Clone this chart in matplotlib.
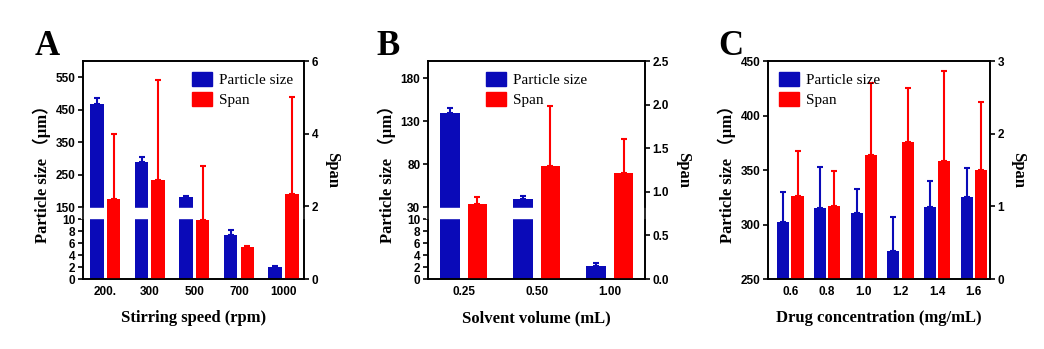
import numpy as np
import matplotlib
matplotlib.use('Agg')
import matplotlib.pyplot as plt
from matplotlib.patches import Rectangle, Patch

# panel A: stirring speed
a_labels = ['200.', '300', '500', '700', '1000']
a_size = [468, 289, 181, 7.4, 1.95]
a_size_err = [19, 15, 3, 0.7, 0.25]
a_span = [2.21, 2.73, 1.63, 0.88, 2.34]
a_span_err = [1.78, 2.75, 1.49, 0.03, 2.68]

# panel B: solvent volume
b_labels = ['0.25', '0.50', '1.00']
b_size = [140, 38.8, 2.2]
b_size_err = [5.8, 3.5, 0.5]
b_span = [0.86, 1.30, 1.21]
b_span_err = [0.08, 0.68, 0.39]

# panel C: drug concentration
c_labels = ['0.6', '0.8', '1.0', '1.2', '1.4', '1.6']
c_size = [302.5, 314.7, 310.8, 275.3, 316, 324.8]
c_size_err = [27.5, 38.3, 22.2, 31.5, 23.5, 26.6]
c_span = [1.14, 1.00, 1.71, 1.89, 1.63, 1.50]
c_span_err = [0.62, 0.48, 0.99, 0.74, 1.23, 0.94]

BLUE = '#0a0ab8'
RED = '#ff0000'
SERIF = ['Liberation Serif', 'Noto Sans CJK SC']
SANS = 'Liberation Sans'

W, H = 1044, 349
fig = plt.figure(figsize=(W / 100, H / 100), dpi=100)


def broken_scale(lo_top, hi_bot, hi_top, f_lo, f_gap):
    # piecewise linear: [0, lo_top] -> [0, f_lo], [hi_bot, hi_top] -> [f_lo+f_gap, 1]
    xs = [0, lo_top, hi_bot, hi_top]
    fs = [0, f_lo, f_lo + f_gap, 1.0]

    def fwd(y):
        y = np.asarray(y, dtype=float)
        out = np.interp(y, xs, fs)
        out = np.where(y < 0, y / lo_top * f_lo, out)
        out = np.where(y > hi_top, 1 + (y - hi_top) / (hi_top - hi_bot) * (1 - f_lo - f_gap), out)
        return out

    def inv(f):
        f = np.asarray(f, dtype=float)
        out = np.interp(f, fs, xs)
        out = np.where(f < 0, f / f_lo * lo_top, out)
        out = np.where(f > 1, hi_top + (f - 1) / (1 - f_lo - f_gap) * (hi_top - hi_bot), out)
        return out
    return fwd, inv


def style(ax):
    for s in ax.spines.values():
        s.set_linewidth(1.2)
    ax.tick_params(width=1.2, length=3.5, labelsize=8.5, pad=2)
    for t in ax.get_xticklabels() + ax.get_yticklabels():
        t.set_fontfamily(SANS)
        t.set_fontweight('bold')


def panel(rect, labels, size, size_err, span, span_err, width, off, xlim,
          ylim, yticks, y2lim, y2ticks, y2fmt, xlabel, letter, letter_xy,
          legend_loc, brk=None):
    ax = fig.add_axes(rect)
    x = np.arange(len(labels))
    if brk is not None:
        fwd, inv = broken_scale(*brk)
        ax.set_yscale('function', functions=(fwd, inv))
    ax.bar(x - off, size, width, color=BLUE, zorder=2)
    ax.errorbar(x - off, size, yerr=[np.zeros(len(size)), size_err], fmt='none',
                ecolor=BLUE, elinewidth=1.5, capsize=2.5, capthick=1.5, zorder=2)
    ax.set_xlim(*xlim)
    ax.set_ylim(*ylim)
    ax.set_yticks(yticks)
    ax.set_xticks(x)
    ax.set_xticklabels(labels)
    if brk is not None:
        # white band hiding the blue bars and left spine across the break
        f_lo, f_gap = brk[3], brk[4]
        ax.add_patch(Rectangle((-0.01, f_lo + 0.004), 1.01, f_gap - 0.008,
                               transform=ax.transAxes, color='white', zorder=3,
                               clip_on=False))
    ax.set_ylabel('Particle size （μm）', family=SERIF, fontweight='bold',
                  fontsize=12, labelpad=3)
    ax.set_xlabel(xlabel, family=SERIF, fontweight='bold', fontsize=12, labelpad=9)

    ax2 = ax.twinx()
    ax2.bar(x + off, span, width, color=RED, zorder=2)
    ax2.errorbar(x + off, span, yerr=[np.zeros(len(span)), span_err], fmt='none',
                 ecolor=RED, elinewidth=1.5, capsize=2.5, capthick=1.5, zorder=2)
    ax2.set_ylim(*y2lim)
    ax2.set_yticks(y2ticks)
    ax2.set_yticklabels([y2fmt.format(v) for v in y2ticks])
    ax2.set_ylabel('Span', family=SERIF, fontweight='bold', fontsize=12,
                   rotation=270, labelpad=16)
    style(ax)
    style(ax2)
    ax.tick_params(axis='x', length=0, pad=5)
    handles = [Patch(color=BLUE, label='Particle size'), Patch(color=RED, label='Span')]
    ax2.legend(handles=handles, loc=legend_loc, frameon=False,
               prop={'family': 'Liberation Serif', 'size': 11},
               handlelength=1.3, handleheight=1.1, handletextpad=0.5,
               labelspacing=0.3, borderaxespad=0.3)
    fig.text(letter_xy[0], letter_xy[1], letter, family='Liberation Serif',
             fontweight='bold', fontsize=25, ha='left', va='baseline')
    return ax, ax2


axh = 218 / H
axb = (H - 279) / H

panel([83 / W, axb, 221 / W, axh], a_labels, a_size, a_size_err, a_span, a_span_err,
      0.3, 0.187, (-0.5, 4.46), (0, 600), [0, 2, 4, 6, 8, 10, 150, 250, 350, 450, 550],
      (0, 6), [0, 2, 4, 6], '{:.0f}', 'Stirring speed (rpm)', 'A', (35 / W, 1 - 55 / H),
      'upper right', brk=(10, 150, 600, 0.275, 0.055))

panel([428 / W, axb, 217 / W, axh], b_labels, b_size, b_size_err, b_span, b_span_err,
      0.27, 0.186, (-0.49, 2.48), (0, 200), [0, 2, 4, 6, 8, 10, 30, 80, 130, 180],
      (0, 2.5), [0, 0.5, 1.0, 1.5, 2.0, 2.5], '{:.1f}', 'Solvent volume (mL)', 'B',
      (376 / W, 1 - 55 / H), 'upper center', brk=(10, 30, 200, 0.275, 0.055))

panel([768 / W, axb, 222 / W, axh], c_labels, c_size, c_size_err, c_span, c_span_err,
      0.33, 0.195, (-0.61, 5.44), (250, 450), [250, 300, 350, 400, 450],
      (0, 3), [0, 1, 2, 3], '{:.0f}', 'Drug concentration (mg/mL)', 'C',
      (718 / W, 1 - 55 / H), 'upper left')

fig.savefig('out.png', dpi=100, facecolor='white')
